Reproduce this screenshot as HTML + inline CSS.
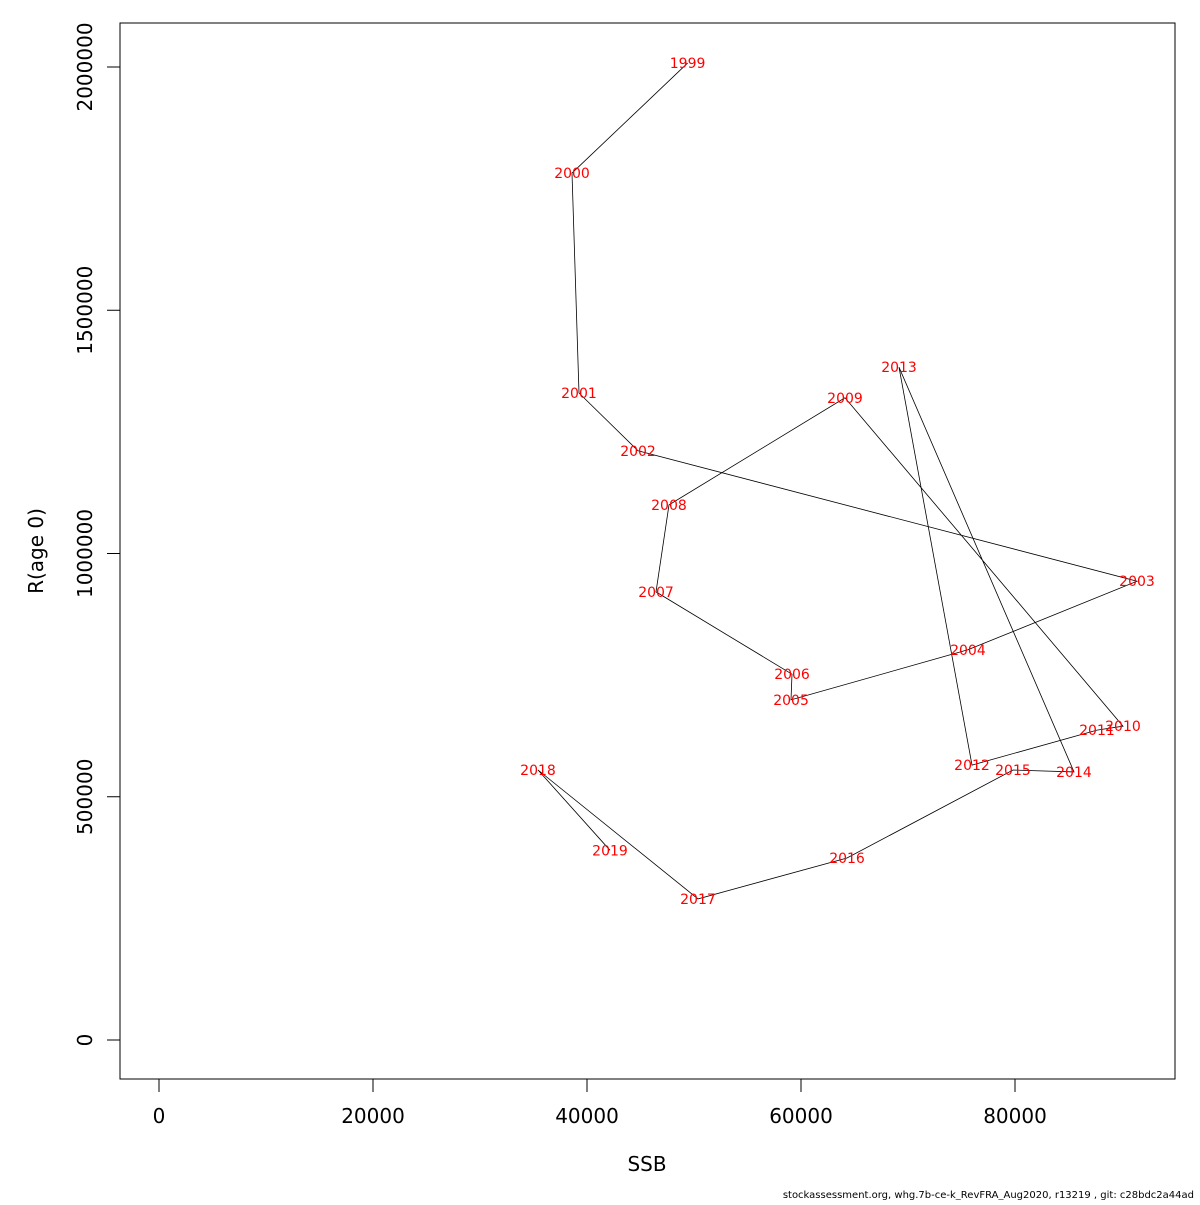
<!DOCTYPE html>
<html><head><meta charset="utf-8"><style>
body{margin:0;background:#fff;overflow:hidden}
svg text{font-family:"DejaVu Sans","Liberation Sans",sans-serif}
</style></head><body>
<svg id="chart" width="1200" height="1200" xmlns="http://www.w3.org/2000/svg">
<rect x="120" y="23" width="1055" height="1056" fill="none" stroke="#000" stroke-width="1"/>
<g id="xaxis"></g>
<g id="yaxis"></g>
<g id="lines"></g>
<g id="labels"></g>
<text x="647" y="1171" font-size="20" text-anchor="middle">SSB</text>
<text transform="translate(43,551) rotate(-90)" font-size="20" text-anchor="middle">R(age 0)</text>
<text x="1194" y="1198" font-size="10" text-anchor="end">stockassessment.org, whg.7b-ce-k_RevFRA_Aug2020, r13219 , git: c28bdc2a44ad</text>
</svg>
<script>
const years=[1999,2000,2001,2002,2003,2004,2005,2006,2007,2008,2009,2010,2011,2012,2013,2014,2015,2016,2017,2018,2019];
const ssb=[49400,38600,39250,44770,91400,75600,59070,59160,46450,47660,64110,90090,87660,75980,69160,85510,79810,64300,50370,35420,42150];
const rec=[2008000,1782000,1330000,1211000,943000,802000,699000,752000,921000,1100000,1320000,645000,637000,565000,1383000,551000,555000,374000,290000,555000,390000];
const xTicks=[0,20000,40000,60000,80000];
const yTicks=[0,500000,1000000,1500000,2000000];
const NS="http://www.w3.org/2000/svg";
const sx=v=>159+v*0.0107;
const sy=v=>1040-v*0.0004865;
function mk(t,a,p){const e=document.createElementNS(NS,t);for(const k in a)e.setAttribute(k,a[k]);p.appendChild(e);return e;}
const xa=document.getElementById('xaxis');
mk('line',{x1:sx(0),x2:sx(80000),y1:1079,y2:1079,stroke:'#000'},xa);
xTicks.forEach(v=>{
  const l=mk('line',{x1:sx(v),x2:sx(v),y1:1079,y2:1092,stroke:'#000'},xa);
  
  
  const t=mk('text',{x:sx(v),y:1123,'font-size':20,'text-anchor':'middle'},xa);
  t.textContent=v;
  
  
});
const ya=document.getElementById('yaxis');
mk('line',{x1:120,x2:120,y1:sy(0),y2:sy(2000000),stroke:'#000'},ya);
yTicks.forEach(v=>{
  const l=mk('line',{x1:107,x2:120,y1:sy(v),y2:sy(v),stroke:'#000'},ya);
  
  
  const t=mk('text',{transform:`translate(92,${sy(v)}) rotate(-90)`,'font-size':20,'text-anchor':'middle'},ya);
  t.textContent=v;
  
  
});
const pts=years.map((y,i)=>sx(ssb[i]).toFixed(1)+','+sy(rec[i]).toFixed(1)).join(' ');
const pl=mk('polyline',{points:pts,fill:'none',stroke:'#000','stroke-width':0.8},document.getElementById('lines'));


const lg=document.getElementById('labels');
years.forEach((y,i)=>{
  const t=mk('text',{x:sx(ssb[i]),y:sy(rec[i])+5,'font-size':14,fill:'#ff0000','text-anchor':'middle'},lg);
  t.textContent=y;
  
  
});
</script>
</body></html>
